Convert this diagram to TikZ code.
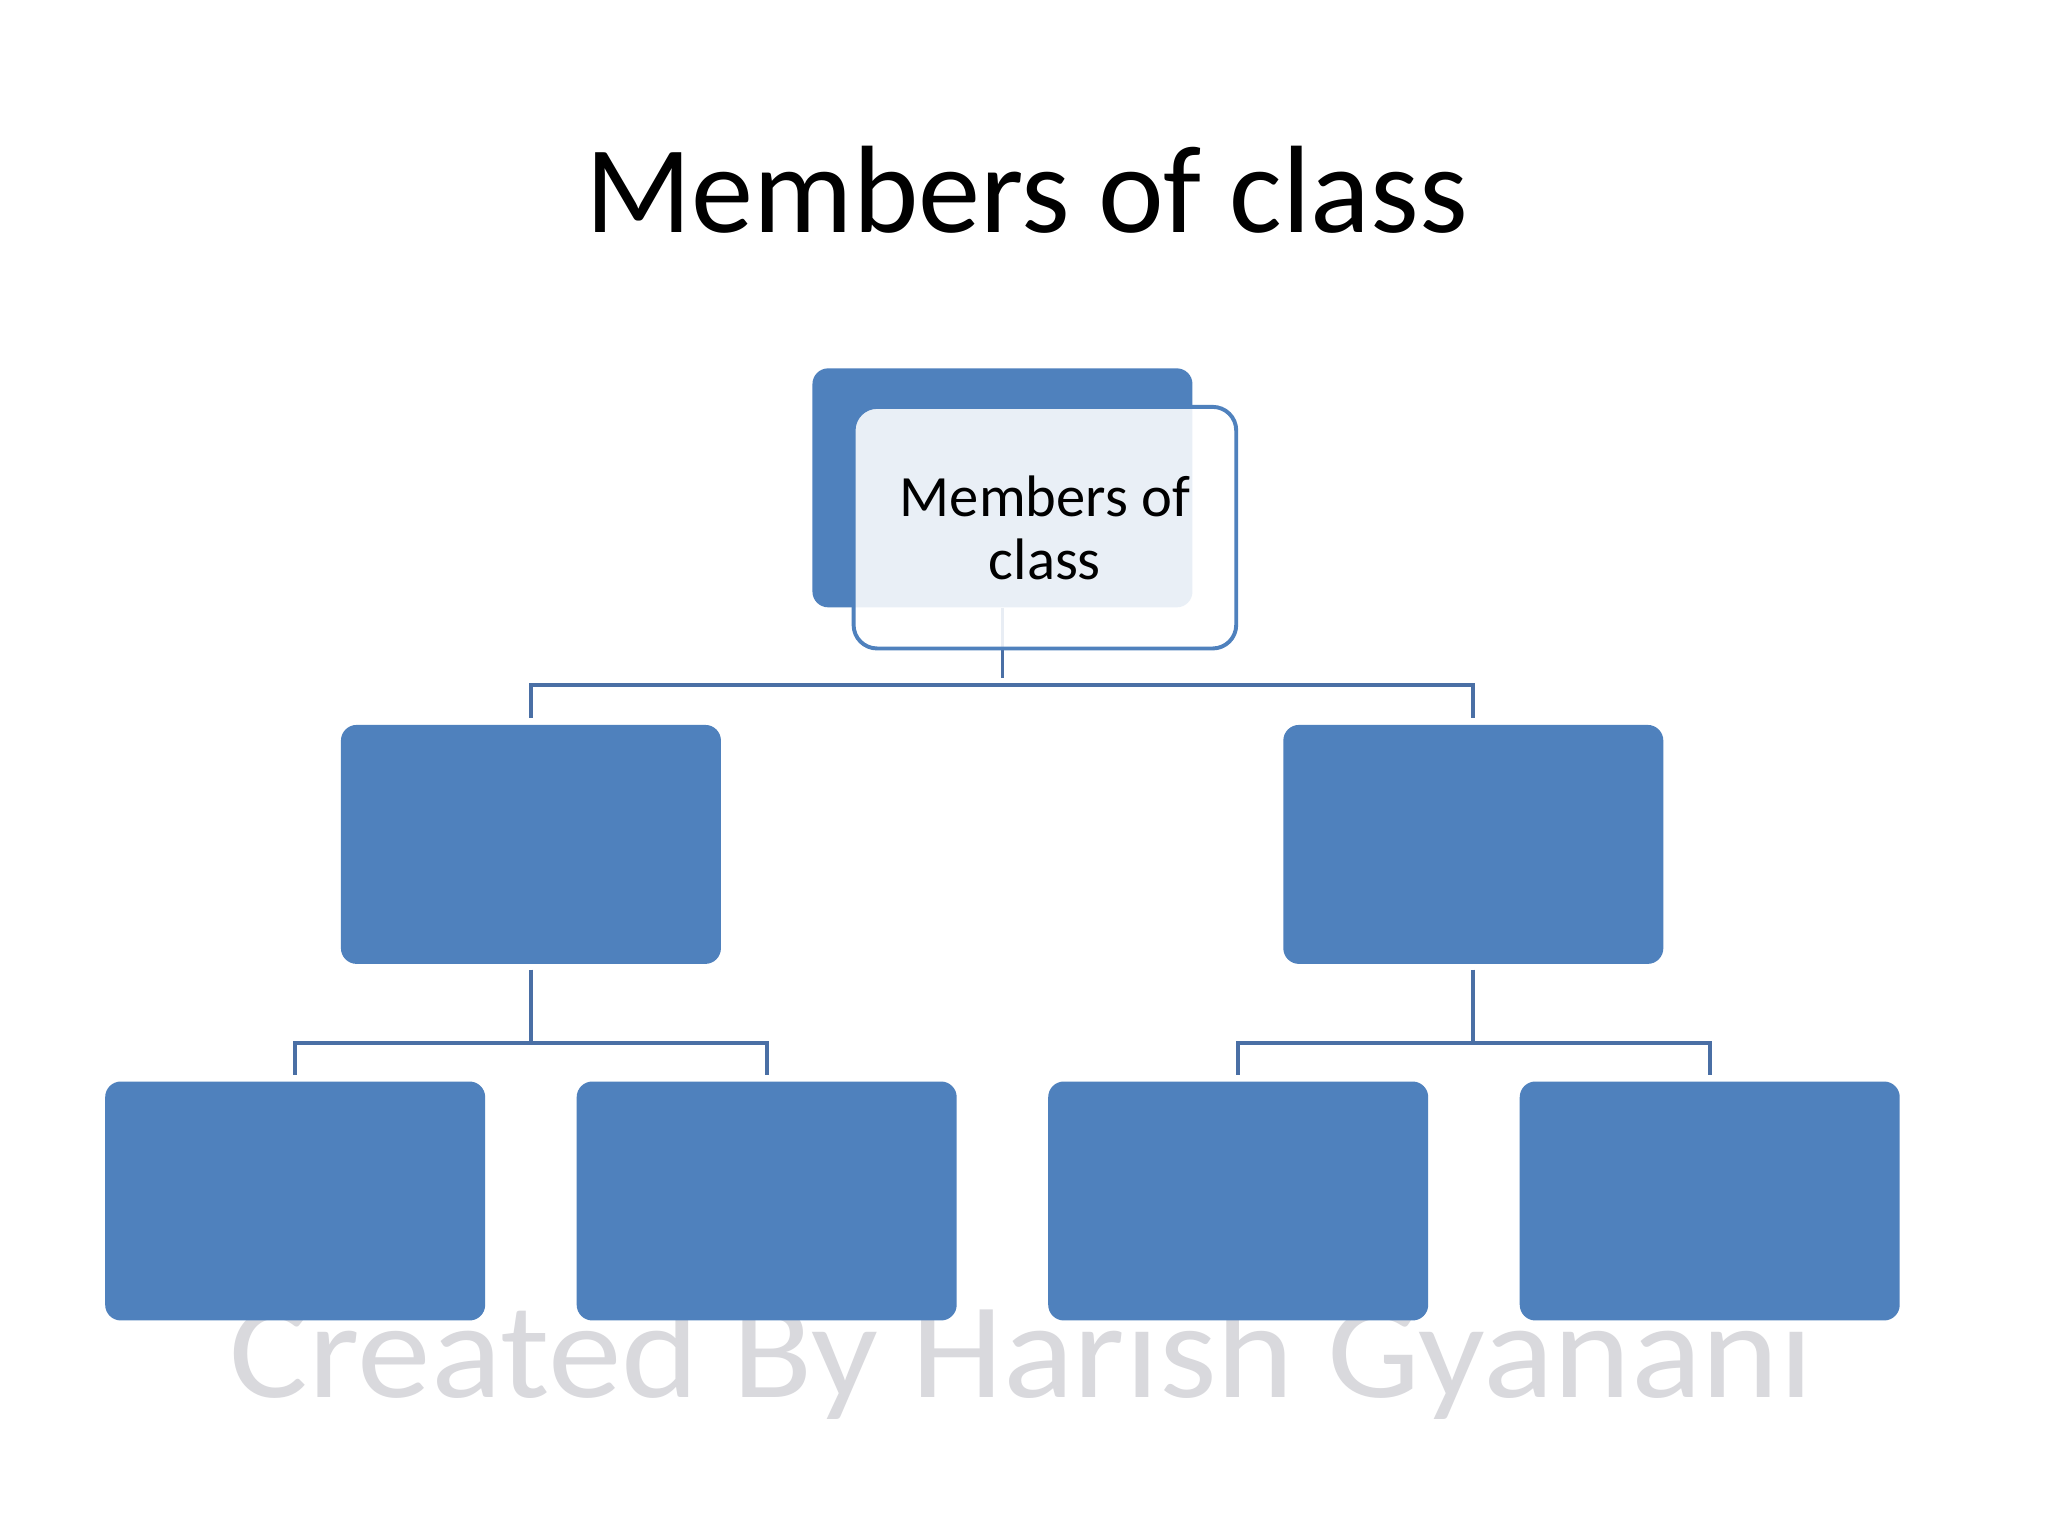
\documentclass[tikz,border=0pt]{standalone}
\usepackage{fontspec}
\setmainfont{Carlito}
\usetikzlibrary{positioning}
\definecolor{boxblue}{HTML}{4F81BD}
\definecolor{lineblue}{HTML}{4A6FA5}
\definecolor{markgray}{HTML}{D9D9DD}
\tikzset{
    member/.style={rectangle, rounded corners=0.24cm, fill=boxblue, minimum width=5.82cm, minimum height=3.66cm, inner sep=0pt},
    conn/.style={draw=lineblue, line width=0.06cm, shorten <=0.08cm, shorten >=0.1cm}
}
\begin{document}
\begin{tikzpicture}[x=0.02cm, y=-0.02cm]
    \useasboundingbox (0,0) rectangle (1568,1176);
    \fill[white] (0,0) rectangle (1568,1176);
    % title and watermark
    \node (title) [anchor=base] at (786,178) {\fontsize{54.2}{65}\selectfont Members of class};
    \node (mark) [anchor=base, text=markgray, xscale=1.08] at (782,1070) {\fontsize{59.5}{72}\selectfont Created By Harish Gyanani};
    % top level
    \node (root) [member] at (767.5,373.5) {};
    \node (left) [member] at (406.5,646.5) {};
    \node (right) [member] at (1128,646.5) {};
    % bottom level
    \node (leftA) [member] at (226,919.5) {};
    \node (leftB) [member] at (587,919.5) {};
    \node (rightA) [member] at (948,919.5) {};
    \node (rightB) [member] at (1309,919.5) {};
    % connectors
    \draw[conn, shorten <=0pt] (root.south) -- ++(0,59) coordinate (rootfork);
    \draw[conn, shorten <=0pt] (rootfork) -| (left.north);
    \draw[conn, shorten <=0pt] (rootfork) -| (right.north);
    \draw[conn, shorten >=0pt] (left.south) -- ++(0,60) coordinate (leftfork);
    \draw[conn, shorten <=0pt] (leftfork) -| (leftA.north);
    \draw[conn, shorten <=0pt] (leftfork) -| (leftB.north);
    \draw[conn, shorten >=0pt] (right.south) -- ++(0,60) coordinate (rightfork);
    \draw[conn, shorten <=0pt] (rightfork) -| (rightA.north);
    \draw[conn, shorten <=0pt] (rightfork) -| (rightB.north);
    % label card over the root
    \node (rootlabel) [rectangle, rounded corners=0.36cm, draw=boxblue, line width=0.06cm, fill=white, fill opacity=0.88, text opacity=1, minimum width=5.86cm, minimum height=3.7cm, align=center, font=\fontsize{25.5}{27.5}\selectfont] at (800,404) {Members of\\class};
\end{tikzpicture}
\end{document}
